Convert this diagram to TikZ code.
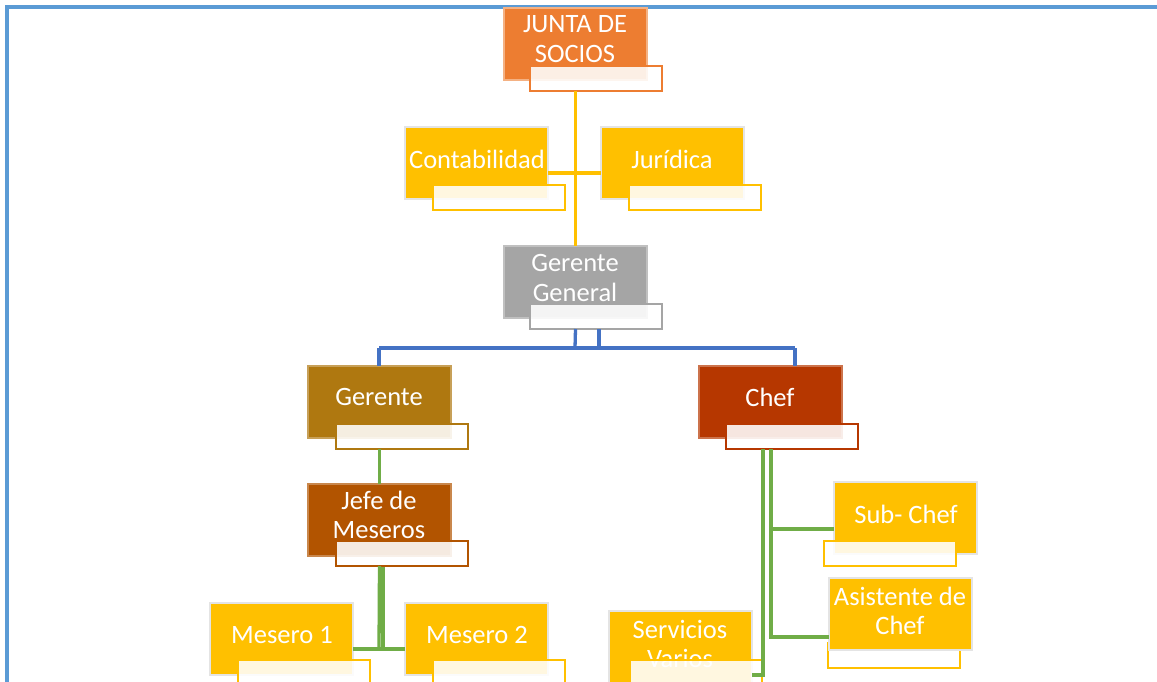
\documentclass[tikz,border=0pt]{standalone}
\usepackage{fontspec}
\setmainfont{Carlito}
\definecolor{frameblue}{HTML}{5B9BD5}
\definecolor{corange}{HTML}{ED7D31}
\definecolor{corangeL}{HTML}{F4B183}
\definecolor{cyellow}{HTML}{FFC000}
\definecolor{cgray}{HTML}{A5A5A5}
\definecolor{cgold}{HTML}{AF7810}
\definecolor{cchef}{HTML}{B63700}
\definecolor{cjefe}{HTML}{B25400}
\definecolor{lineblue}{HTML}{4472C4}
\definecolor{linegreen}{HTML}{70AD47}
\definecolor{boxedge}{HTML}{E4E4E4}
\begin{document}
\begin{tikzpicture}[x=1pt,y=-1pt,
  mbox/.style={anchor=north west, inner sep=0pt, outer sep=0pt, minimum width=143pt, minimum height=72pt, line width=1.5pt},
  wbox/.style={anchor=north west, inner sep=0pt, outer sep=0pt, minimum width=132pt, minimum height=25pt, fill=white, fill opacity=0.88, draw=#1, draw opacity=1, line width=2.4pt},
  txt/.style={text=white, font=\fontsize{26.5}{29.5}\selectfont, align=center, inner sep=0pt},
  conn/.style={line width=3.3pt}
]
\clip (0,0) rectangle (1157,682);
\fill[white] (0,0) rectangle (1157,682);
% frame
\draw[frameblue, line width=3.5pt] (7,682) -- (7,7) -- (1157,7);

% main boxes
\node[mbox, fill=corange, draw=corangeL] (junta) at (504,8) {};
\node[mbox, fill=cyellow, draw=boxedge] (conta) at (405,127) {};
\node[mbox, fill=cyellow, draw=boxedge] (juri) at (601,127) {};
\node[mbox, fill=cgray, draw=cgray!70] (gg) at (504,246) {};
\node[mbox, fill=cgold, draw=cgold!70] (ger) at (308,366) {};
\node[mbox, fill=cchef, draw=cchef!70] (chef) at (699,366) {};
\node[mbox, fill=cjefe, draw=cjefe!70] (jefe) at (308,484) {};
\node[mbox, fill=cyellow, draw=boxedge] (sub) at (834,482) {};
\node[mbox, fill=cyellow, draw=boxedge] (mes1) at (210,603) {};
\node[mbox, fill=cyellow, draw=boxedge] (mes2) at (405,603) {};
\node[mbox, fill=cyellow, draw=boxedge] (serv) at (609,611) {};

% white box positions
\path (530,66) coordinate (juntaWpos) (433,185) coordinate (contaWpos) (629,185) coordinate (juriWpos)
      (530,304) coordinate (ggWpos) (336,424) coordinate (gerWpos) (726,424) coordinate (chefWpos)
      (336,541) coordinate (jefeWpos) (824,541) coordinate (subWpos) (828,643) coordinate (asisWpos)
      (238,660) coordinate (mes1Wpos) (433,660) coordinate (mes2Wpos) (630,660) coordinate (servWpos);

% texts
\node[txt] (juntaT) at (575,39) {JUNTA DE\\SOCIOS};
\node[txt] (contaT) at (477,159) {Contabilidad};
\node[txt] (juriT) at (672,159) {Jurídica};
\node[txt] (ggT) at (575,278) {Gerente\\General};
\node[txt] (gerT) at (379,397) {Gerente};
\node[txt] (chefT) at (770,397) {Chef};
\node[txt] (jefeT) at (379,515) {Jefe de\\Meseros};
\node[txt] (subT) at (906,514) {Sub- Chef};
\node[txt] (mes1T) at (282,635) {Mesero 1};
\node[txt] (mes2T) at (477,635) {Mesero 2};
\node[txt] (servT) at (680,644) {Servicios\\Varios};

% white overlay boxes
\node[wbox=corange] (juntaW) at (juntaWpos) {};
\node[wbox=cyellow] (contaW) at (contaWpos) {};
\node[wbox=cyellow] (juriW) at (juriWpos) {};
\node[wbox=cgray] (ggW) at (ggWpos) {};
\node[wbox=cgold] (gerW) at (gerWpos) {};
\node[wbox=cchef] (chefW) at (chefWpos) {};
\node[wbox=cjefe] (jefeW) at (jefeWpos) {};
\node[wbox=cyellow] (subW) at (subWpos) {};
\node[wbox=cyellow] (mes1W) at (mes1Wpos) {};
\node[wbox=cyellow] (mes2W) at (mes2Wpos) {};
\node[wbox=cyellow] (servW) at (servWpos) {};

% Asistente: white box behind its main box
\node[wbox=cyellow] (asisW) at (asisWpos) {};
\node[mbox, fill=cyellow, draw=boxedge] (asis) at (829,578) {};
\node[txt] (asisT) at (900,611) {Asistente de\\Chef};

% connectors
\draw[conn, cyellow] (gg.north |- juntaW.south) -- (gg.north);
\draw[conn, cyellow] (conta.east |- 0,173) -- (juri.west |- 0,173);

\coordinate (bj) at (575,348);
\coordinate (bl) at (379,348);
\coordinate (br) at (795,348);
\draw[conn, lineblue] (gg.north |- ggW.south) -- (bj);
\draw[conn, lineblue] (599,329) coordinate (gg2) -- (gg2 |- bj);
\draw[conn, lineblue] (bl) -- (br);
\draw[conn, lineblue] (bl) -- (bl |- ger.north);
\draw[conn, lineblue] (br) -- (br |- chef.north);

\draw[conn, linegreen] (ger.south |- gerW.south) -- (jefe.north);
\coordinate (mj) at (379,649);
\draw[conn, linegreen] (jefe.south |- jefeW.south) -- (mj);
\draw[conn, linegreen] (383,567) coordinate (j2) -- (j2 |- mj);
\draw[conn, linegreen] (mes1.east |- mj) -- (mes2.west |- mj);

\coordinate (c1) at (763,449);
\coordinate (c2) at (771,449);
\draw[conn, linegreen] (c1) -- (c1 |- 0,675) -- (serv.east |- 0,675);
\draw[conn, linegreen] (c2) -- (c2 |- 0,637) -- (asis.west |- 0,637);
\draw[conn, linegreen] (c2 |- 0,529) -- (sub.west |- 0,529);
\end{tikzpicture}
\end{document}
